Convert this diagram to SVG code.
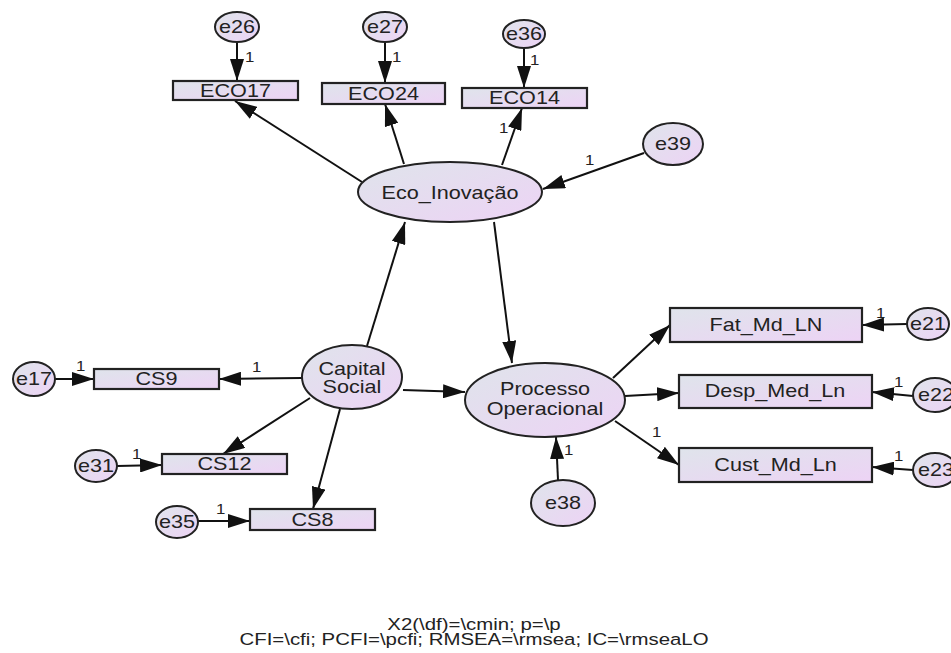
<svg xmlns="http://www.w3.org/2000/svg" width="951" height="653" viewBox="0 0 951 653">
<defs>
<linearGradient id="g" x1="0" y1="0" x2="1" y2="1">
<stop offset="0" stop-color="#dfe4eb"/>
<stop offset="1" stop-color="#edd3f5"/>
</linearGradient>
<marker id="ah" markerUnits="userSpaceOnUse" markerWidth="22" markerHeight="14" refX="22" refY="7" orient="auto">
<path d="M0,0 L22,7 L0,14 z" fill="#111"/>
</marker>
<style>
.b{fill:url(#g);stroke:#222;stroke-width:2.2}
.e{fill:url(#g);stroke:#222;stroke-width:2}
.t{font-family:"Liberation Sans",Arial,sans-serif;font-size:18px;fill:#222;text-anchor:middle}
.n{font-family:"Liberation Sans",Arial,sans-serif;font-size:14px;fill:#222}
.f{font-family:"Liberation Sans",Arial,sans-serif;font-size:17px;fill:#222;text-anchor:middle}
.c line{stroke:#111;stroke-width:2;marker-end:url(#ah)}
</style>
</defs>
<rect width="951" height="653" fill="#fff"/>
<g id="connectors" class="c">
<line x1="237" y1="42" x2="237" y2="81"/>
<line x1="385" y1="42" x2="385" y2="83"/>
<line x1="524" y1="48" x2="524" y2="88"/>
<line x1="644" y1="153" x2="543" y2="189"/>
<line x1="362" y1="182" x2="235" y2="101"/>
<line x1="404" y1="164" x2="385" y2="104"/>
<line x1="502" y1="165" x2="522" y2="108"/>
<line x1="367" y1="346" x2="405" y2="222"/>
<line x1="494" y1="222" x2="512" y2="363"/>
<line x1="403" y1="390" x2="465" y2="392"/>
<line x1="302" y1="378" x2="219" y2="379"/>
<line x1="55" y1="379" x2="94" y2="379"/>
<line x1="310" y1="398" x2="223" y2="454"/>
<line x1="117" y1="466" x2="162" y2="465"/>
<line x1="340" y1="409" x2="313" y2="509"/>
<line x1="198" y1="521" x2="250" y2="521"/>
<line x1="613" y1="378" x2="670" y2="325"/>
<line x1="625" y1="396" x2="679" y2="393"/>
<line x1="615" y1="421" x2="679" y2="465"/>
<line x1="907" y1="324" x2="862" y2="325"/>
<line x1="913" y1="396" x2="872" y2="392"/>
<line x1="913" y1="470" x2="872" y2="467"/>
<line x1="558" y1="480" x2="556" y2="437"/>
</g>
<g id="weights">
<text class="n" transform="translate(245 62) scale(1.2 1)">1</text>
<text class="n" transform="translate(392 62) scale(1.2 1)">1</text>
<text class="n" transform="translate(530 65) scale(1.2 1)">1</text>
<text class="n" transform="translate(585 165) scale(1.2 1)">1</text>
<text class="n" transform="translate(499 133) scale(1.2 1)">1</text>
<text class="n" transform="translate(252 372) scale(1.2 1)">1</text>
<text class="n" transform="translate(76 371) scale(1.2 1)">1</text>
<text class="n" transform="translate(132 459) scale(1.2 1)">1</text>
<text class="n" transform="translate(216 514) scale(1.2 1)">1</text>
<text class="n" transform="translate(652 437) scale(1.2 1)">1</text>
<text class="n" transform="translate(876 318) scale(1.2 1)">1</text>
<text class="n" transform="translate(894 387) scale(1.2 1)">1</text>
<text class="n" transform="translate(894 461) scale(1.2 1)">1</text>
<text class="n" transform="translate(564 455) scale(1.2 1)">1</text>
</g>
<g id="e26"><ellipse class="e" cx="237" cy="27" rx="22" ry="15"/><text class="t" transform="translate(237 33) scale(1.2 1)">e26</text></g>
<g id="e27"><ellipse class="e" cx="385" cy="27" rx="22" ry="15"/><text class="t" transform="translate(385 33) scale(1.2 1)">e27</text></g>
<g id="e36"><ellipse class="e" cx="524" cy="34" rx="21" ry="14"/><text class="t" transform="translate(524 40) scale(1.2 1)">e36</text></g>
<g id="ECO17"><rect class="b" x="173" y="81" width="125" height="19"/><text class="t" transform="translate(235.5 97) scale(1.2 1)">ECO17</text></g>
<g id="ECO24"><rect class="b" x="322" y="83" width="123" height="21"/><text class="t" transform="translate(383.5 100) scale(1.2 1)">ECO24</text></g>
<g id="ECO14"><rect class="b" x="462" y="88" width="125" height="20"/><text class="t" transform="translate(524.5 104) scale(1.2 1)">ECO14</text></g>
<g id="e39"><ellipse class="e" cx="673" cy="144" rx="30" ry="21"/><text class="t" transform="translate(673 150) scale(1.2 1)">e39</text></g>
<g id="Eco_Inovacao"><ellipse class="e" cx="450" cy="192" rx="92" ry="30"/><text class="t" transform="translate(450 198.5) scale(1.2 1)">Eco_Inovação</text></g>
<g id="CapitalSocial"><ellipse class="e" cx="352" cy="377" rx="50" ry="32"/><text class="t" transform="translate(352 375) scale(1.2 1)">Capital</text><text class="t" transform="translate(352 393) scale(1.2 1)">Social</text></g>
<g id="CS9"><rect class="b" x="94" y="369" width="125" height="20"/><text class="t" transform="translate(156.5 385) scale(1.2 1)">CS9</text></g>
<g id="CS12"><rect class="b" x="162" y="454" width="125" height="20"/><text class="t" transform="translate(224.5 470) scale(1.2 1)">CS12</text></g>
<g id="CS8"><rect class="b" x="250" y="509" width="125" height="21"/><text class="t" transform="translate(312.5 526) scale(1.2 1)">CS8</text></g>
<g id="e17"><ellipse class="e" cx="34" cy="379" rx="21" ry="17"/><text class="t" transform="translate(34 385) scale(1.2 1)">e17</text></g>
<g id="e31"><ellipse class="e" cx="96" cy="466" rx="21" ry="16"/><text class="t" transform="translate(96 472) scale(1.2 1)">e31</text></g>
<g id="e35"><ellipse class="e" cx="177" cy="522" rx="21" ry="16"/><text class="t" transform="translate(177 528) scale(1.2 1)">e35</text></g>
<g id="ProcessoOperacional"><ellipse class="e" cx="545" cy="400" rx="80" ry="37"/><text class="t" transform="translate(545 395) scale(1.2 1)">Processo</text><text class="t" transform="translate(545 415) scale(1.2 1)">Operacional</text></g>
<g id="e38"><ellipse class="e" cx="563" cy="503" rx="32" ry="23"/><text class="t" transform="translate(563 509) scale(1.2 1)">e38</text></g>
<g id="Fat_Md_LN"><rect class="b" x="670" y="308" width="192" height="34"/><text class="t" transform="translate(766 331) scale(1.2 1)">Fat_Md_LN</text></g>
<g id="Desp_Med_Ln"><rect class="b" x="679" y="375" width="193" height="33"/><text class="t" transform="translate(775 397) scale(1.2 1)">Desp_Med_Ln</text></g>
<g id="Cust_Md_Ln"><rect class="b" x="679" y="448" width="193" height="34"/><text class="t" transform="translate(775.5 471) scale(1.2 1)">Cust_Md_Ln</text></g>
<g id="e21"><ellipse class="e" cx="928" cy="324" rx="21" ry="16"/><text class="t" transform="translate(928 330) scale(1.2 1)">e21</text></g>
<g id="e22"><ellipse class="e" cx="935" cy="395" rx="22" ry="17"/><text class="t" transform="translate(936 401) scale(1.2 1)">e22</text></g>
<g id="e23"><ellipse class="e" cx="935" cy="470" rx="22" ry="17"/><text class="t" transform="translate(936 476) scale(1.2 1)">e23</text></g>
<g id="fit">
<text class="f" transform="translate(474 630) scale(1.2 1)">X2(\df)=\cmin; p=\p</text>
<text class="f" transform="translate(474 645) scale(1.2 1)">CFI=\cfi; PCFI=\pcfi; RMSEA=\rmsea; IC=\rmseaLO</text>
</g>
</svg>
